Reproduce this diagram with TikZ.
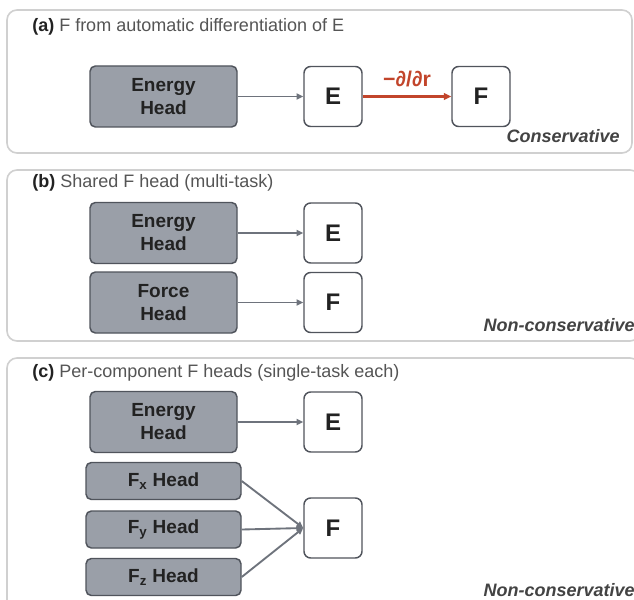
\documentclass[tikz,border=0pt]{standalone}
\usepackage{fontspec}
\setmainfont{Liberation Sans}
\usetikzlibrary{arrows.meta}
\definecolor{headfill}{HTML}{9A9FA8}
\definecolor{headdraw}{HTML}{50545C}
\definecolor{arrowgray}{HTML}{6E737C}
\definecolor{framegray}{HTML}{D0D0D0}
\definecolor{redarrow}{HTML}{C2452B}
\definecolor{titlegray}{HTML}{555555}
\definecolor{darktext}{HTML}{222222}
\begin{document}
\begin{tikzpicture}[x=0.75pt,y=-0.75pt,
  panel/.style={draw=framegray,line width=1.2pt,rounded corners=7.5pt,fill=white},
  headbox/.style={draw=headdraw,fill=headfill,line width=1.1pt,rounded corners=4pt,
    minimum width=110.25pt,minimum height=45.75pt,inner sep=0pt,align=center,
    text=darktext,font=\fontsize{14.25}{17.25}\selectfont\bfseries},
  smallhead/.style={headbox,minimum width=116.25pt,minimum height=27.75pt},
  outbox/.style={draw=headdraw,fill=white,line width=1.1pt,rounded corners=5pt,
    minimum width=43.5pt,minimum height=45pt,inner sep=0pt,
    text=darktext,font=\fontsize{18}{20}\selectfont\bfseries},
  title/.style={anchor=west,inner sep=0pt,text=titlegray,font=\fontsize{13.5}{15}\selectfont},
  kind/.style={anchor=east,inner sep=0pt,text=darktext!85,font=\fontsize{13.5}{15}\selectfont\bfseries\itshape},
  conn/.style={draw=arrowgray,line width=1.4pt,-{Triangle[length=5pt,width=4.5pt]}},
  redconn/.style={draw=redarrow,line width=1.7pt,-{Triangle[length=5.5pt,width=5pt]}}
]
\useasboundingbox (0,0) rectangle (634,599);
\clip (0,0) rectangle (634,599);
% panel frames
\draw[panel] (7,10) rectangle (632,153);
\draw[panel] (7,170) rectangle (640,341);
\draw[panel] (7,358) rectangle (640,620);

% panel (a)
\node[title] (ta) at (32,27) {\textcolor{darktext}{\textbf{(a)}} F from automatic differentiation of E};
\node[headbox] (ehA) at (163.5,96.5) {Energy\\Head};
\node[outbox] (eA) at (333,96.5) {E};
\node[outbox] (fA) at (481,96.5) {F};
\draw[conn] (ehA) -- (eA);
\draw[redconn] (eA) -- node[above=3pt,text=redarrow,font=\fontsize{16}{18}\selectfont\bfseries] {−∂/∂r} (fA);
\node[kind] (ka) at (620,136) {Conservative};

% panel (b)
\node[title] (tb) at (32,183) {\textcolor{darktext}{\textbf{(b)}} Shared F head (multi-task)};
\node[headbox] (ehB) at (163.5,233) {Energy\\Head};
\node[outbox] (eB) at (333,233) {E};
\node[headbox] (fhB) at (163.5,302.5) {Force\\Head};
\node[outbox] (fB) at (333,302.5) {F};
\draw[conn] (ehB) -- (eB);
\draw[conn] (fhB) -- (fB);
\node[kind] (kb) at (635,325) {Non-conservative};

% panel (c)
\node[title] (tc) at (32,373) {\textcolor{darktext}{\textbf{(c)}} Per-component F heads (single-task each)};
\node[headbox] (ehC) at (163.5,422) {Energy\\Head};
\node[outbox] (eC) at (333,422) {E};
\node[smallhead] (fx) at (163.5,481) {F\textsubscript{x} Head};
\node[smallhead] (fy) at (163.5,529.5) {F\textsubscript{y} Head};
\node[smallhead] (fz) at (163.5,577) {F\textsubscript{z} Head};
\node[outbox] (fC) at (333,528) {F};
\draw[conn] (ehC) -- (eC);
\draw[conn] (fx.east) -- (fC.west);
\draw[conn] (fy.east) -- (fC.west);
\draw[conn] (fz.east) -- (fC.west);
\node[kind] (kc) at (635,590) {Non-conservative};
\end{tikzpicture}
\end{document}
